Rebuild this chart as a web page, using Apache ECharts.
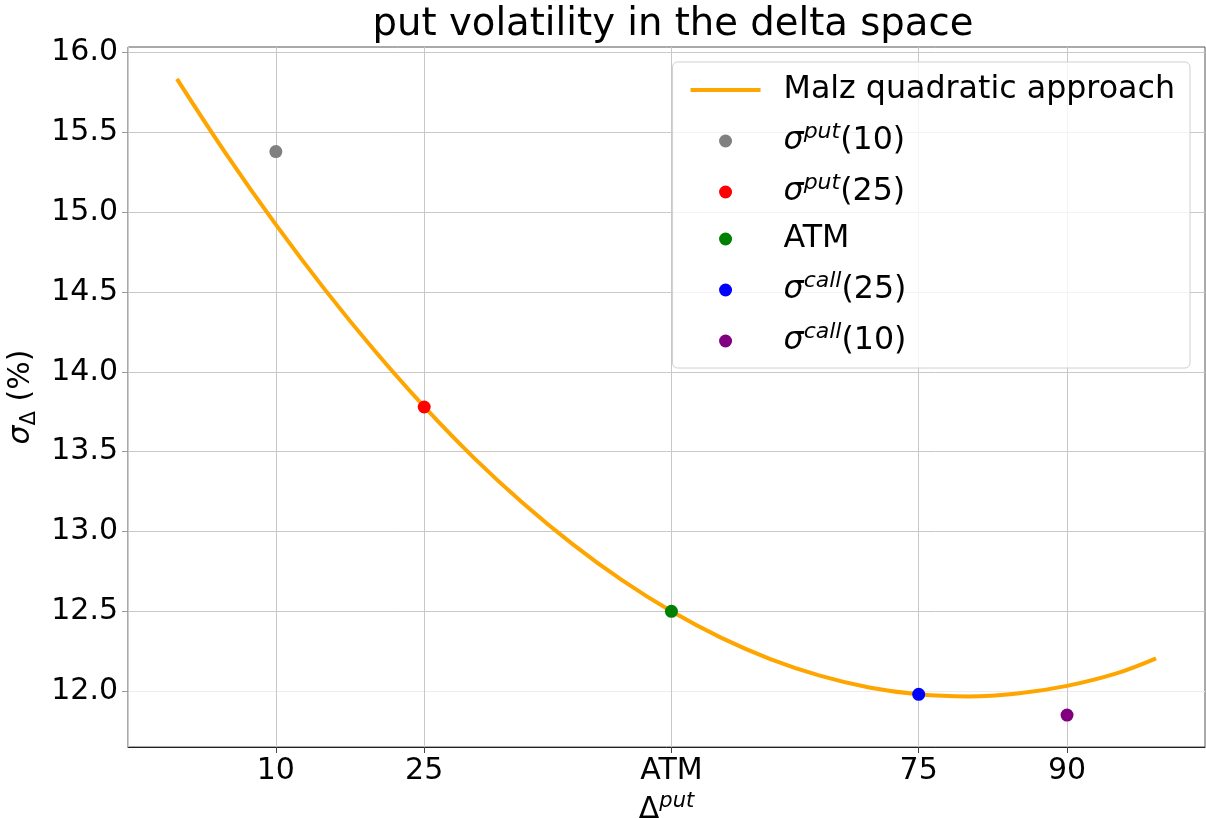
<!DOCTYPE html>
<html><head><meta charset="utf-8">
<script src="https://cdn.jsdelivr.net/npm/echarts@6/dist/echarts.min.js"></script>
<style>html,body{margin:0;padding:0;background:#fff}#c{width:1206px;height:818px}</style>
</head><body><div id="c"></div>
<script>
// Curve (Malz quadratic approach)
const curveX = [0, 5, 10, 15, 20, 25, 30, 35, 40, 45, 50, 55, 60, 65, 70, 75, 80, 85, 90, 95, 99];
const curveY = [15.835, 15.362, 14.922, 14.512, 14.132, 13.782, 13.463, 13.177, 12.921, 12.695, 12.500, 12.335, 12.201, 12.097, 12.023, 11.980, 11.967, 11.985, 12.033, 12.111, 12.205];
// Quoted points
const pointNames = ['σput(10)', 'σput(25)', 'ATM', 'σcall(25)', 'σcall(10)'];
const pointX = [10, 25, 50, 75, 90];
const pointY = [15.38, 13.78, 12.50, 11.98, 11.85];
const pointColors = ['#808080', '#ff0000', '#008000', '#0000ff', '#800080'];
// Ticks
const xTickValues = [10, 25, 50, 75, 90];
const xTickLabels = ['10', '25', 'ATM', '75', '90'];
const yTickValues = [12.0, 12.5, 13.0, 13.5, 14.0, 14.5, 15.0, 15.5, 16.0];
const lineName = 'Malz quadratic approach';

const FONT = 'DejaVu Sans';
const richLegend = {
  t: {fontSize: 31.7, fontFamily: FONT, color: '#000', lineHeight: 40},
  i: {fontSize: 31.7, fontFamily: FONT, color: '#000', fontStyle: 'italic', lineHeight: 40},
  sup: {fontSize: 22, fontFamily: FONT, color: '#000', fontStyle: 'italic', lineHeight: 18, verticalAlign: 'top'}
};
const legendRich = {
  'Malz quadratic approach': '{t|Malz quadratic approach}',
  'σput(10)': '{i|σ}{sup|put}{t|(10)}',
  'σput(25)': '{i|σ}{sup|put}{t|(25)}',
  'ATM': '{t|ATM}',
  'σcall(25)': '{i|σ}{sup|call}{t|(25)}',
  'σcall(10)': '{i|σ}{sup|call}{t|(10)}'
};

const chart = echarts.init(document.getElementById('c'), null, {renderer: 'canvas'});
const series = [{
  name: lineName,
  type: 'line',
  data: curveX.map((x, i) => [x, curveY[i]]),
  smooth: 0.4,
  showSymbol: false,
  symbol: 'none',
  lineStyle: {color: '#ffa500', width: 4},
  itemStyle: {color: '#ffa500'},
  z: 2,
  silent: true
}];
pointNames.forEach((n, i) => {
  series.push({
    name: n, type: 'scatter', symbol: 'circle', symbolSize: 13,
    data: [[pointX[i], pointY[i]]],
    itemStyle: {color: pointColors[i], opacity: 1},
    z: 3
  });
});

const yGridColors = yTickValues.map(v => v === 12.0 ? '#ececec' : '#c8c8c8');

chart.setOption({
  animation: false,
  backgroundColor: '#fff',
  title: {
    text: 'put volatility in the delta space',
    left: 668, top: 0, textAlign: 'center',
    textStyle: {fontFamily: FONT, fontSize: 38.6, fontWeight: 'normal', color: '#000'}
  },
  grid: {left: 128, right: 1, top: 47, bottom: 71, show: true, borderColor: '#555', borderWidth: 1,
    backgroundColor: 'transparent', containLabel: false, outerBoundsMode: 'none'},
  xAxis: {
    type: 'value', min: -4.95, max: 103.95,
    axisLine: {show: true, onZero: false, lineStyle: {color: '#222', width: 1}},
    axisTick: {show: true, length: 6, customValues: xTickValues, lineStyle: {color: '#444'}},
    axisLabel: {customValues: xTickValues, margin: 9, fontFamily: FONT, fontSize: 30, color: '#000',
      formatter: v => { const k = xTickValues.indexOf(v); return k >= 0 ? xTickLabels[k] : ''; }},
    splitLine: {show: true, lineStyle: {color: '#c8c8c8', width: 1}},
    name: '{b|Δ}{sup|put}', nameLocation: 'middle', nameGap: 28,
    nameTextStyle: {rich: {
      b: {fontSize: 30, fontFamily: FONT, color: '#000', lineHeight: 38},
      sup: {fontSize: 21, fontFamily: FONT, fontStyle: 'italic', color: '#000', lineHeight: 20, verticalAlign: 'top'}
    }}
  },
  yAxis: {
    type: 'value', min: 11.65, max: 16.035,
    axisLine: {show: true, onZero: false, lineStyle: {color: '#cccccc', width: 1}},
    axisTick: {show: true, length: 6, customValues: yTickValues, lineStyle: {color: '#999'}},
    axisLabel: {customValues: yTickValues, margin: 10, fontFamily: FONT, fontSize: 30, color: '#000',
      formatter: v => Number(v).toFixed(1)},
    splitLine: {show: true, lineStyle: {color: yGridColors, width: 1}},
    name: '{i|σ}{sub|Δ}{t| (%)}', nameLocation: 'middle', nameGap: 76,
    nameTextStyle: {rich: {
      i: {fontSize: 30, fontFamily: FONT, fontStyle: 'italic', color: '#000', lineHeight: 38},
      t: {fontSize: 30, fontFamily: FONT, color: '#000', lineHeight: 38},
      sub: {fontSize: 21, fontFamily: FONT, color: '#000', lineHeight: 20, verticalAlign: 'bottom'}
    }}
  },
  legend: {
    orient: 'vertical', right: 16, top: 62,
    itemWidth: 70, itemHeight: 13, itemGap: 15,
    padding: [12, 15, 11, 16],
    backgroundColor: 'rgba(255,255,255,0.8)', borderColor: '#d0d0d0', borderWidth: 1, borderRadius: 5,
    data: [{name: lineName, itemStyle: {color: 'rgba(0,0,0,0)', borderWidth: 0}}]
      .concat(pointNames.map(n => ({name: n, icon: 'circle'}))),
    lineStyle: {width: 4},
    formatter: name => legendRich[name],
    textStyle: {padding: [0, 0, 0, 18], rich: richLegend},
    selectedMode: false
  },
  series: series
});
</script></body></html>
